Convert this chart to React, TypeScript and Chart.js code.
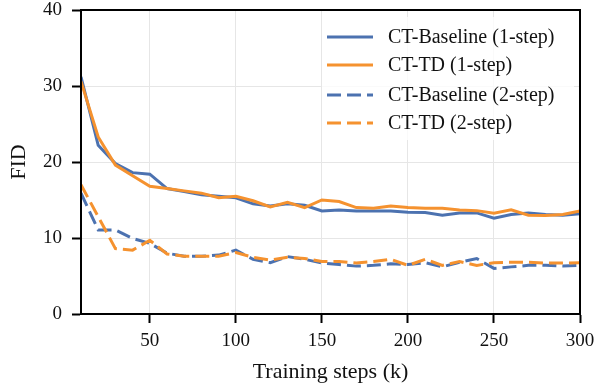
import React, { useEffect, useRef } from "react";
import { Chart, registerables } from "chart.js";

Chart.register(...registerables);

const steps = [10, 20, 30, 40, 50, 60, 70, 80, 90, 100, 110, 120, 130, 140, 150, 160, 170, 180, 190, 200, 210, 220, 230, 240, 250, 260, 270, 280, 290, 300];
const baseline1 = [31.2, 22.2, 19.8, 18.6, 18.4, 16.5, 16.1, 15.7, 15.5, 15.3, 14.5, 14.2, 14.5, 14.3, 13.55, 13.7, 13.55, 13.55, 13.55, 13.4, 13.35, 13.0, 13.3, 13.3, 12.6, 13.1, 13.3, 13.1, 13.0, 13.2];
const td1 = [30.6, 23.3, 19.6, 18.2, 16.8, 16.5, 16.2, 15.9, 15.3, 15.5, 14.9, 14.1, 14.7, 14.0, 15.0, 14.8, 14.0, 13.9, 14.2, 14.0, 13.9, 13.9, 13.7, 13.6, 13.25, 13.7, 13.0, 12.95, 13.1, 13.55];
const baseline2 = [15.9, 11.05, 11.05, 9.95, 9.3, 8.0, 7.6, 7.6, 7.75, 8.4, 7.2, 6.75, 7.55, 7.2, 6.7, 6.5, 6.3, 6.4, 6.6, 6.5, 6.75, 6.2, 6.8, 7.3, 6.0, 6.2, 6.4, 6.4, 6.3, 6.4];
const td2 = [17.0, 12.8, 8.6, 8.4, 9.7, 7.9, 7.6, 7.6, 7.6, 8.1, 7.45, 7.1, 7.45, 7.3, 6.9, 6.9, 6.7, 6.9, 7.2, 6.4, 7.2, 6.4, 6.9, 6.4, 6.75, 6.8, 6.8, 6.7, 6.7, 6.75];
const xTicks = [50, 100, 150, 200, 250, 300];
const seriesNames = ["CT-Baseline (1-step)", "CT-TD (1-step)", "CT-Baseline (2-step)", "CT-TD (2-step)"];

const BLUE = "#4C72B0";
const ORANGE = "#F5922F";
const FONT = "'Liberation Serif', 'DejaVu Serif', serif";
const DASH = [14, 6];

const framePlugin = {
  id: "frame",
  afterDraw(chart: any) {
    const { ctx, chartArea } = chart;
    ctx.save();
    ctx.strokeStyle = "#000";
    ctx.lineWidth = 2;
    ctx.strokeRect(chartArea.left, chartArea.top, chartArea.right - chartArea.left, chartArea.bottom - chartArea.top);
    ctx.restore();
  },
};

const legendPlugin = {
  id: "customLegend",
  afterDatasetsDraw(chart: any) {
    const { ctx } = chart;
    const ds = chart.data.datasets;
    const boxLeft = 322;
    const boxTop = 17;
    const boxRight = 574;
    const boxBottom = 140;
    ctx.save();
    ctx.fillStyle = "rgba(255,255,255,0.8)";
    ctx.fillRect(boxLeft, boxTop, boxRight - boxLeft, boxBottom - boxTop);
    const rows = [37, 65, 95, 123];
    ds.forEach((d: any, i: number) => {
      const y = rows[i];
      ctx.beginPath();
      ctx.strokeStyle = d.borderColor;
      ctx.lineWidth = 3;
      ctx.setLineDash(d.borderDash || []);
      ctx.moveTo(327, y);
      ctx.lineTo(373, y);
      ctx.stroke();
      ctx.setLineDash([]);
      ctx.fillStyle = "#111";
      ctx.font = `20px ${FONT}`;
      ctx.textAlign = "left";
      ctx.textBaseline = "middle";
      ctx.fillText(d.label, 388, y + 1);
    });
    ctx.restore();
  },
};

export default function App() {
  const ref = useRef<HTMLCanvasElement>(null);
  useEffect(() => {
    document.body.style.margin = "0";
    const canvas = ref.current!;
    const mk = (label: string, data: number[], color: string, dashed: boolean, order: number) => ({
      label,
      data: steps.map((x, i) => ({ x, y: data[i] })),
      borderColor: color,
      backgroundColor: color,
      borderWidth: 3,
      borderDash: dashed ? DASH : [],
      pointRadius: 0,
      tension: 0,
      fill: false,
      order,
    });
    const chart = new Chart(canvas, {
      type: "line",
      data: {
        datasets: [
          mk(seriesNames[0], baseline1, BLUE, false, 4),
          mk(seriesNames[1], td1, ORANGE, false, 3),
          mk(seriesNames[2], baseline2, BLUE, true, 2),
          mk(seriesNames[3], td2, ORANGE, true, 1),
        ],
      },
      options: {
        responsive: false,
        animation: false,
        layout: { padding: { left: 0, right: 14, top: 10, bottom: 0 } },
        plugins: { legend: { display: false }, tooltip: { enabled: false } },
        scales: {
          x: {
            type: "linear",
            min: 10,
            max: 300,
            afterBuildTicks: (axis: any) => {
              axis.ticks = xTicks.map((v) => ({ value: v }));
            },
            afterFit: (scale: any) => {
              scale.height = 71;
              scale.paddingLeft = 0;
              scale.paddingRight = 0;
              scale.paddingTop = 0;
              scale.paddingBottom = 0;
            },
            grid: { color: "#e6e6e6", lineWidth: 1, tickLength: 9, tickColor: "#000", tickWidth: 2 },
            border: { color: "#000", width: 2 },
            ticks: { color: "#111", font: { family: FONT, size: 19 }, padding: 7, maxRotation: 0 },
            title: { display: true, text: "Training steps (k)", color: "#111", font: { family: FONT, size: 22 }, padding: { top: 0, bottom: 0 } },
          },
          y: {
            min: 0,
            max: 40,
            ticks: { stepSize: 10, color: "#111", font: { family: FONT, size: 19 }, padding: 10 },
            afterFit: (scale: any) => {
              scale.width = 81;
              scale.paddingLeft = 0;
              scale.paddingRight = 0;
              scale.paddingTop = 0;
              scale.paddingBottom = 0;
            },
            grid: { color: "#e6e6e6", lineWidth: 1, tickLength: 9, tickColor: "#000", tickWidth: 2 },
            border: { color: "#000", width: 2 },
            title: { display: true, text: "FID", color: "#111", font: { family: FONT, size: 22 }, padding: { top: 6, bottom: 0 } },
          },
        },
      },
      plugins: [framePlugin, legendPlugin],
    } as any);
    return () => chart.destroy();
  }, []);
  return (
    <div style={{ position: "fixed", left: 0, top: 0, width: 594, height: 385 }}>
      <canvas ref={ref} width={594} height={385} style={{ width: 594, height: 385, display: "block" }} />
    </div>
  );
}
